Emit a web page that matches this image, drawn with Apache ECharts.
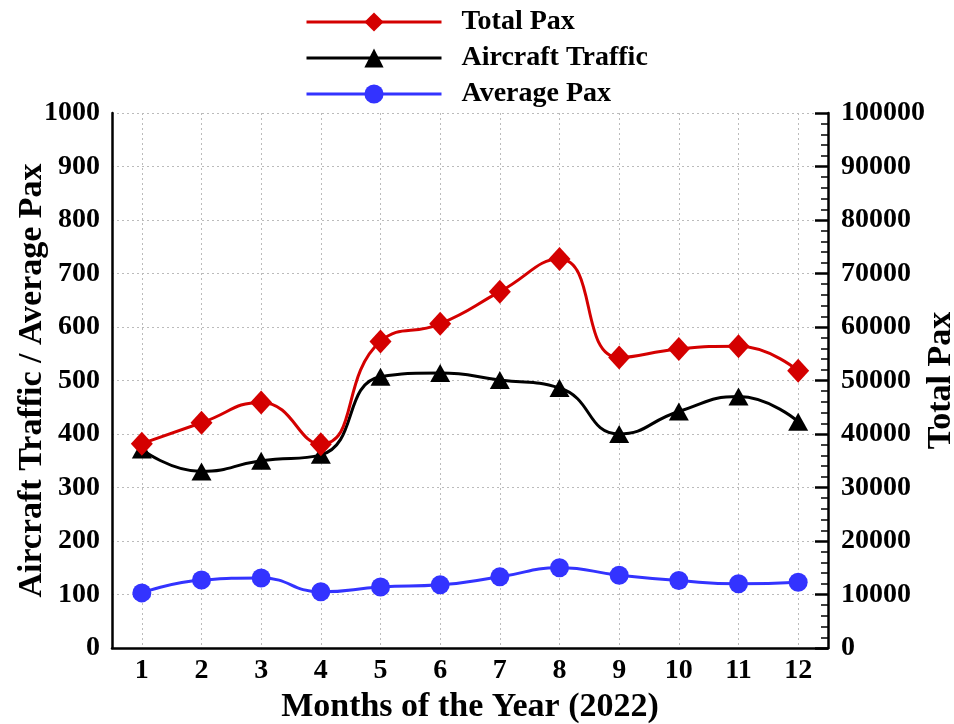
<!DOCTYPE html>
<html>
<head>
<meta charset="utf-8">
<script src="https://cdn.jsdelivr.net/npm/echarts@6/dist/echarts.min.js"></script>
<style>
html,body{margin:0;padding:0;background:#fff;}
#chart{width:954px;height:724px;}
</style>
</head>
<body>
<div id="chart"></div>
<script>
const months = ['1','2','3','4','5','6','7','8','9','10','11','12'];
const totalPax = [38200, 42100, 45900, 38100, 57300, 60600, 66600, 72700, 54300, 55900, 56400, 51800];
const aircraftTraffic = [371, 330, 350, 361, 507, 514, 501, 486, 400, 442, 470, 423];
const averagePax = [103, 127, 131, 105, 114, 118, 133, 150, 136, 126, 120, 123];
const leftTicks = [0, 1000, 100];
const rightTicks = [0, 100000, 10000];

const FONT = '"Liberation Serif", "Times New Roman", serif';
const chart = echarts.init(document.getElementById('chart'));
chart.setOption({
  backgroundColor: '#fff',
  animation: false,
  textStyle: {fontFamily: FONT},
  legend: {
    orient: 'vertical',
    left: 300,
    top: 3,
    itemWidth: 135,
    itemHeight: 24,
    itemGap: 8,
    lineStyle: {width: 3},
    textStyle: {fontFamily: FONT, fontWeight: 'bold', fontSize: 28, color: '#000', padding: [0, 0, 0, 15]},
    data: ['Total Pax', 'Aircraft Traffic', 'Average Pax']
  },
  grid: {left: 112, right: 126, top: 113, bottom: 76, containLabel: false, outerBoundsMode: 'none'},
  xAxis: {
    type: 'category',
    data: months,
    boundaryGap: true,
    name: 'Months of the Year (2022)',
    nameLocation: 'middle',
    nameGap: 40,
    nameTextStyle: {fontFamily: FONT, fontWeight: 'bold', fontSize: 34, color: '#000'},
    axisLine: {show: true, lineStyle: {color: '#000', width: 2.5}},
    axisTick: {show: false},
    axisLabel: {fontFamily: FONT, fontWeight: 'bold', fontSize: 28, color: '#000', margin: 9},
    splitLine: {show: true, alignWithLabel: true, lineStyle: {color: '#bbb', type: [2, 3], width: 1}}
  },
  yAxis: [
    {
      type: 'value',
      min: leftTicks[0], max: leftTicks[1], interval: leftTicks[2],
      name: 'Aircraft Traffic / Average Pax',
      nameLocation: 'middle',
      nameRotate: 90,
      nameGap: 63,
      nameMoveOverlap: false,
      nameTextStyle: {fontFamily: FONT, fontWeight: 'bold', fontSize: 34, color: '#000'},
      axisLine: {show: true, lineStyle: {color: '#000', width: 2.5}},
      axisTick: {show: false},
      axisLabel: {fontFamily: FONT, fontWeight: 'bold', fontSize: 28, color: '#000', margin: 12, formatter: v => String(v)},
      splitLine: {show: true, lineStyle: {color: '#bbb', type: [2, 3], width: 1}}
    },
    {
      type: 'value',
      position: 'right',
      min: rightTicks[0], max: rightTicks[1], interval: rightTicks[2],
      name: 'Total Pax',
      nameLocation: 'middle',
      nameRotate: 90,
      nameGap: 96,
      nameMoveOverlap: false,
      nameTextStyle: {fontFamily: FONT, fontWeight: 'bold', fontSize: 34, color: '#000'},
      axisLine: {show: true, lineStyle: {color: '#000', width: 2.5}},
      axisTick: {show: true, inside: true, length: 13, lineStyle: {color: '#000', width: 2.5}},
      minorTick: {show: true, splitNumber: 5, length: 7, lineStyle: {color: '#000', width: 1.5}},
      axisLabel: {fontFamily: FONT, fontWeight: 'bold', fontSize: 28, color: '#000', margin: 13, formatter: v => String(v)},
      splitLine: {show: false}
    }
  ],
  series: [
    {
      name: 'Total Pax', type: 'line', yAxisIndex: 1, data: totalPax,
      smooth: 0.5, symbol: 'diamond', symbolSize: [22, 24],
      itemStyle: {color: '#d40000'}, lineStyle: {color: '#d40000', width: 3}, z: 3
    },
    {
      name: 'Aircraft Traffic', type: 'line', yAxisIndex: 0, data: aircraftTraffic,
      smooth: 0.5, symbol: 'triangle', symbolSize: [20, 18],
      itemStyle: {color: '#000'}, lineStyle: {color: '#000', width: 3}, z: 2
    },
    {
      name: 'Average Pax', type: 'line', yAxisIndex: 0, data: averagePax,
      smooth: 0.5, symbol: 'circle', symbolSize: 19,
      itemStyle: {color: '#3333ff'}, lineStyle: {color: '#3333ff', width: 3}, z: 2
    }
  ]
});
</script>
</body>
</html>
